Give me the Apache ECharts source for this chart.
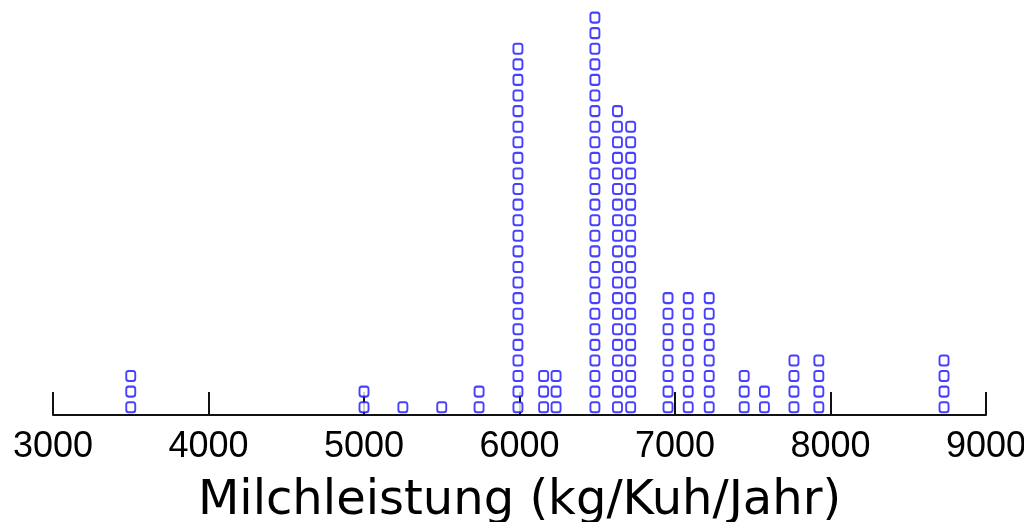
<!DOCTYPE html>
<html>
<head>
<meta charset="utf-8">
<script src="https://cdn.jsdelivr.net/npm/echarts@6/dist/echarts.min.js"></script>
<style>
  html, body { margin: 0; padding: 0; background: #fff; }
  #chart { width: 1024px; height: 522px; }
</style>
</head>
<body>
<div id="chart"></div>
<script>
// Milchleistung je Kuh, gestapelt (Dot-Plot)
const milk = [3500, 5000, 5250, 5500, 5740, 5990, 6155, 6235, 6485, 6630, 6715, 6955, 7085, 7220, 7445, 7575, 7765, 7925, 8730]
const counts = [3, 2, 1, 1, 2, 24, 3, 3, 26, 20, 19, 8, 8, 8, 3, 2, 4, 4, 4]
const xTicks = [3000, 4000, 5000, 6000, 7000, 8000, 9000]

// jede Kuh ein Punkt: [Milchleistung, Stapelhoehe]
let dots = []
milk.forEach((m, i) => {
  for (let k = 1; k <= counts[i]; k++) {
    dots.push([m, k])
  }
})

const chart = echarts.init(document.getElementById('chart'))
const option = {
  animation: false,
  grid: {
    left: 53,
    right: 38,
    top: 2,
    bottom: 107,
    containLabel: false,
    outerBoundsMode: 'none'
  },
  xAxis: {
    type: 'value',
    min: xTicks[0],
    max: xTicks[xTicks.length - 1],
    interval: 1000,
    name: 'Milchleistung (kg/Kuh/Jahr)',
    nameLocation: 'middle',
    nameGap: 63,
    nameTextStyle: {
      fontFamily: 'DejaVu Sans',
      fontSize: 48,
      color: '#000'
    },
    axisLine: {
      show: true,
      lineStyle: { color: '#111', width: 2 }
    },
    axisTick: {
      show: true,
      inside: true,
      length: 23,
      lineStyle: { color: '#111', width: 2 }
    },
    axisLabel: {
      margin: 14,
      fontFamily: 'Liberation Sans',
      fontSize: 36,
      color: '#000',
      formatter: (v) => String(v)
    },
    splitLine: { show: false }
  },
  yAxis: {
    type: 'value',
    min: 0.5,
    max: 27,
    show: false
  },
  series: [
    {
      type: 'scatter',
      symbol: 'emptyRoundRect',
      symbolSize: [9, 10],
      itemStyle: {
        color: '#1a10ff',
        borderColor: '#1a10ff',
        borderWidth: 2.2
      },
      data: dots
    }
  ]
}
chart.setOption(option)
</script>
</body>
</html>
